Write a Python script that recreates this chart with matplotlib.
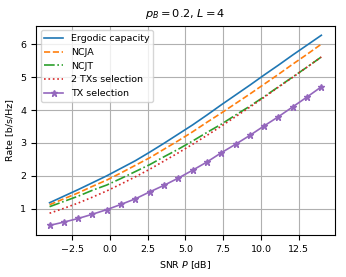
import numpy as np
import matplotlib
matplotlib.use("Agg")
import matplotlib.pyplot as plt

# SNR grid (dB)
snr = np.linspace(-4, 14, 20)

ergodic = [1.18, 1.38, 1.58, 1.79, 2.00, 2.23, 2.46, 2.72, 2.99, 3.27,
           3.55, 3.85, 4.16, 4.46, 4.76, 5.07, 5.37, 5.68, 5.98, 6.28]
ncja = [1.12, 1.30, 1.48, 1.68, 1.87, 2.09, 2.32, 2.55, 2.81, 3.07,
        3.34, 3.63, 3.91, 4.20, 4.49, 4.79, 5.09, 5.40, 5.70, 6.01]
ncjt = [1.06, 1.22, 1.38, 1.56, 1.72, 1.92, 2.13, 2.34, 2.58, 2.81,
        3.06, 3.32, 3.57, 3.85, 4.12, 4.41, 4.71, 5.01, 5.31, 5.62]
sel2 = [0.86, 1.01, 1.17, 1.35, 1.54, 1.75, 1.97, 2.20, 2.45, 2.70,
        2.96, 3.23, 3.51, 3.80, 4.09, 4.39, 4.70, 5.00, 5.31, 5.62]
sel1 = [0.49, 0.59, 0.70, 0.83, 0.97, 1.13, 1.30, 1.51, 1.71, 1.93,
        2.17, 2.42, 2.70, 2.96, 3.23, 3.52, 3.80, 4.10, 4.40, 4.71]

plt.rcParams['font.size'] = 6.8

fig = plt.figure(figsize=(3.46, 2.77), dpi=100)
ax = fig.add_axes([0.104, 0.152, 0.864, 0.755])

lw = 1.2
ax.plot(snr, ergodic, color='tab:blue', lw=lw, label='Ergodic capacity')
ax.plot(snr, ncja, color='tab:orange', lw=lw, ls='--', label='NCJA')
ax.plot(snr, ncjt, color='tab:green', lw=lw, ls='-.', label='NCJT')
ax.plot(snr, sel2, color='tab:red', lw=lw, ls=':', label='2 TXs selection')
ax.plot(snr, sel1, color='tab:purple', lw=lw, marker='*', ms=5,
        label='TX selection')

ax.set_title(r'$p_B = 0.2$, $L = 4$')
ax.set_xlabel(r'SNR $P$ [dB]')
ax.set_ylabel('Rate [b/s/Hz]')
ax.grid(True)
ax.legend(loc='upper left')

fig.savefig('out.png', dpi=100)
